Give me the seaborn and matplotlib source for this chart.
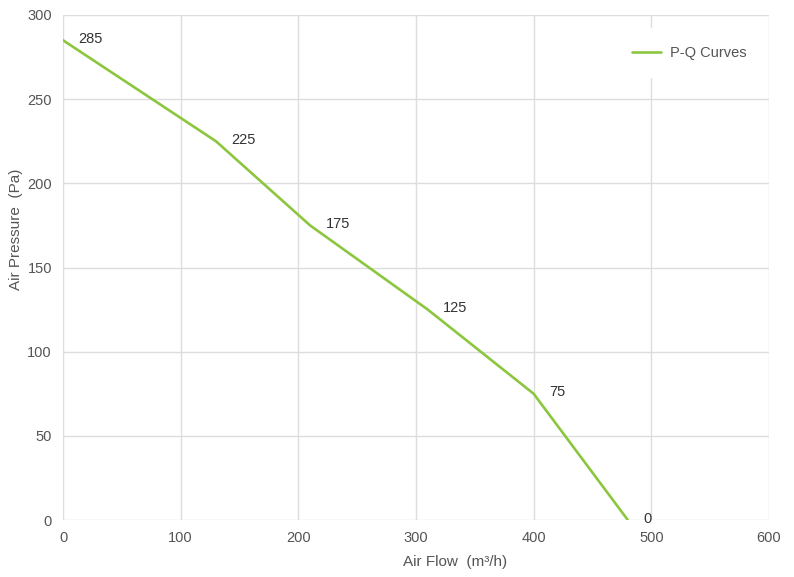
import numpy as np
import pandas as pd
import matplotlib
matplotlib.use("Agg")
import matplotlib.pyplot as plt
import seaborn as sns

# P-Q curve points
air_flow = [0, 130, 210, 310, 400, 480]
air_pressure = [285, 225, 175, 125, 75, 0]
series_name = "P-Q Curves"

data = pd.DataFrame({"flow": air_flow, "pressure": air_pressure})

sns.set_style("white")
plt.rcParams['font.family'] = ['Liberation Sans', 'DejaVu Sans']

green = '#8CC63F'
gray_txt = '#555555'
grid_col = '#DDDDDD'

fig = plt.figure(figsize=(7.94, 5.77), dpi=100)
ax = fig.add_axes([63/794, 57/577, (769-63)/794, (520-15)/577])

sns.lineplot(x="flow", y="pressure", data=data, color=green, linewidth=1.9,
             label=series_name, ax=ax)
ax.lines[0].set_solid_joinstyle('round')

for x, y in zip(air_flow, air_pressure):
    ax.annotate(str(y), (x, y), xytext=(11, 1), textcoords='offset points',
                ha='left', va='center', fontsize=10.5, color='#333333')

ax.set_xlim(0, 600)
ax.set_ylim(0, 300)
ax.set_xticks(range(0, 601, 100))
ax.set_yticks(range(0, 301, 50))
ax.grid(True, color=grid_col, linewidth=1)
ax.set_axisbelow(True)
for s in ax.spines.values():
    s.set_visible(False)
ax.tick_params(length=0, labelsize=10.5, labelcolor=gray_txt, pad=8)

ax.set_xlabel("Air Flow  (m³/h)", fontsize=11, color=gray_txt)
ax.set_ylabel("Air Pressure  (Pa)", fontsize=11, color=gray_txt)
ax.xaxis.set_label_coords((455-63)/706, -0.07)
ax.yaxis.set_label_coords(-0.056, (520-229)/505)

leg = ax.legend(loc='upper right', bbox_to_anchor=(1.003, 0.988), frameon=True,
                fontsize=10.5, handlelength=2.0, handletextpad=0.6, borderpad=1.2)
leg.get_frame().set_edgecolor('white')
leg.get_frame().set_facecolor('white')
leg.get_frame().set_alpha(1)
for t in leg.get_texts():
    t.set_color(gray_txt)

plt.savefig("out.png", dpi=100)
